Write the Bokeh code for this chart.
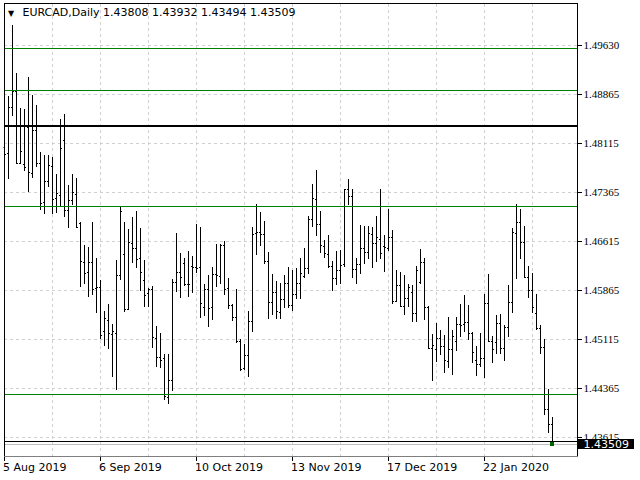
from bokeh.plotting import figure
from bokeh.models import (FixedTicker, Label, LabelSet, ColumnDataSource, Range1d,
                          BoxAnnotation)
from bokeh.embed import file_html
from bokeh.resources import INLINE

# ---------------- data ----------------
symbol_title = "EURCAD,Daily  1.43808 1.43932 1.43494 1.43509"

opens = [1.48060, 1.47958, 1.48662, 1.48912, 1.47805, 1.47790, 1.48356, 1.47652, 1.48315, 1.47805,
         1.47208, 1.47530, 1.47764, 1.47270, 1.47321, 1.48162, 1.47086, 1.47239, 1.47336, 1.46887,
         1.46290, 1.46137, 1.46290, 1.45893, 1.45918, 1.45230, 1.45408, 1.45194, 1.45213, 1.46090,
         1.46417, 1.45575, 1.46580, 1.46504, 1.46361, 1.46019, 1.45815, 1.45876, 1.45127, 1.44846,
         1.44821, 1.44224, 1.44489, 1.45983, 1.46147, 1.46274, 1.45953, 1.46233, 1.46218, 1.46218,
         1.45601, 1.45876, 1.45601, 1.46106, 1.46085, 1.46555, 1.45897, 1.45631, 1.45453, 1.45091,
         1.44668, 1.44866, 1.45387, 1.46743, 1.46759, 1.46718, 1.46310, 1.45677, 1.45830, 1.45535,
         1.45728, 1.45968, 1.45631, 1.45805, 1.45968, 1.46080, 1.46198, 1.46947, 1.47263, 1.46871,
         1.46544, 1.46417, 1.46228, 1.46050, 1.46172, 1.46259, 1.47406, 1.47304, 1.46187, 1.46259,
         1.46504, 1.46442, 1.46723, 1.46580, 1.46646, 1.46539, 1.46504, 1.46672, 1.45703, 1.45937,
         1.45626, 1.45744, 1.45830, 1.45509, 1.45988, 1.46289, 1.45600, 1.44974, 1.44958, 1.45127,
         1.45009, 1.44785, 1.44958, 1.45091, 1.45341, 1.45341, 1.45382, 1.45203, 1.44795, 1.44734,
         1.44821, 1.45662, 1.45091, 1.45065, 1.45356, 1.44984, 1.45305, 1.45688, 1.46743, 1.46912,
         1.46595, 1.46060, 1.45866, 1.45519, 1.45290, 1.44989, 1.44040, 1.43808]
highs = [1.48136, 1.48835, 1.49921, 1.49197, 1.48662, 1.48647, 1.49126, 1.48851, 1.48698, 1.47978,
         1.47933, 1.47933, 1.47907, 1.47642, 1.48488, 1.48560, 1.47474, 1.47642, 1.47581, 1.46913,
         1.46556, 1.46525, 1.46913, 1.46357, 1.46020, 1.45546, 1.45663, 1.45347, 1.46325, 1.47141,
         1.46912, 1.46799, 1.46983, 1.47075, 1.46815, 1.46325, 1.45900, 1.45927, 1.45315, 1.45213,
         1.44887, 1.44887, 1.46034, 1.46738, 1.46432, 1.46366, 1.46463, 1.46386, 1.46886, 1.46830,
         1.45958, 1.46096, 1.46223, 1.46580, 1.46580, 1.46616, 1.46055, 1.45662, 1.45886, 1.45127,
         1.45040, 1.45545, 1.46830, 1.47187, 1.47059, 1.46927, 1.46447, 1.46121, 1.46004, 1.45978,
         1.46106, 1.46223, 1.46172, 1.46208, 1.46361, 1.46519, 1.47008, 1.47498, 1.47702, 1.47080,
         1.46631, 1.46718, 1.46310, 1.46463, 1.46478, 1.47422, 1.47575, 1.47422, 1.46366, 1.46861,
         1.46845, 1.46845, 1.46835, 1.46998, 1.47422, 1.46708, 1.47105, 1.46784, 1.46172, 1.46141,
         1.46106, 1.45958, 1.45943, 1.46233, 1.46504, 1.46366, 1.45620, 1.45203, 1.45371, 1.45254,
         1.45188, 1.45458, 1.45264, 1.45458, 1.45652, 1.45800, 1.45637, 1.45223, 1.45009, 1.45218,
         1.45815, 1.46121, 1.45172, 1.45494, 1.45499, 1.45331, 1.45943, 1.46825, 1.47182, 1.47116,
         1.46845, 1.46243, 1.46126, 1.45815, 1.45331, 1.45127, 1.44351, 1.43932]
lows = [1.46591, 1.47570, 1.48529, 1.47805, 1.47805, 1.47693, 1.47372, 1.47586, 1.47754, 1.47091,
        1.47035, 1.47448, 1.47035, 1.47050, 1.47142, 1.46989, 1.46821, 1.47168, 1.46836, 1.45918,
        1.45969, 1.45765, 1.45791, 1.45520, 1.45122, 1.45010, 1.44969, 1.44541, 1.44336, 1.46019,
        1.45535, 1.45560, 1.46284, 1.46208, 1.45856, 1.45611, 1.45611, 1.44989, 1.44693, 1.44678,
        1.44193, 1.44132, 1.44326, 1.45841, 1.45749, 1.45937, 1.45764, 1.45825, 1.46136, 1.45443,
        1.45473, 1.45305, 1.45407, 1.45917, 1.45968, 1.45795, 1.45580, 1.45397, 1.45060, 1.44632,
        1.44642, 1.44540, 1.45229, 1.46402, 1.46539, 1.46274, 1.45427, 1.45494, 1.45433, 1.45427,
        1.45596, 1.45601, 1.45550, 1.45728, 1.45728, 1.46050, 1.46111, 1.46835, 1.46692, 1.46437,
        1.46366, 1.46213, 1.45856, 1.45953, 1.45958, 1.46223, 1.47167, 1.46055, 1.45958, 1.46121,
        1.46264, 1.46351, 1.46213, 1.46300, 1.46351, 1.46147, 1.46468, 1.45652, 1.45688, 1.45611,
        1.45489, 1.45611, 1.45387, 1.45382, 1.45958, 1.45417, 1.44965, 1.44479, 1.44770, 1.44872,
        1.44601, 1.44683, 1.44566, 1.44938, 1.45152, 1.45229, 1.45101, 1.44754, 1.44560, 1.44693,
        1.44525, 1.45076, 1.44754, 1.44897, 1.44897, 1.44785, 1.45152, 1.45519, 1.46045, 1.46340,
        1.46060, 1.45749, 1.45519, 1.45264, 1.44887, 1.43954, 1.43683, 1.43494]
closes = [1.47943, 1.48662, 1.48912, 1.47805, 1.47989, 1.47754, 1.47678, 1.48315, 1.47805, 1.47193,
          1.47530, 1.47774, 1.47254, 1.47346, 1.48040, 1.47086, 1.47239, 1.47361, 1.46836, 1.46306,
          1.46122, 1.46290, 1.45877, 1.45918, 1.45179, 1.45434, 1.45204, 1.45230, 1.46090, 1.47075,
          1.45575, 1.46595, 1.46504, 1.46340, 1.46136, 1.45790, 1.45876, 1.45142, 1.44836, 1.44795,
          1.44249, 1.44489, 1.45983, 1.46147, 1.46070, 1.45953, 1.45953, 1.46218, 1.46208, 1.45662,
          1.45876, 1.45591, 1.46106, 1.46096, 1.46555, 1.45886, 1.45631, 1.45453, 1.45091, 1.44652,
          1.44866, 1.45387, 1.46718, 1.46759, 1.46718, 1.46310, 1.45677, 1.45830, 1.45550, 1.45728,
          1.45968, 1.45631, 1.45805, 1.45968, 1.46131, 1.46198, 1.46947, 1.47269, 1.46871, 1.46555,
          1.46427, 1.46228, 1.46050, 1.46172, 1.46243, 1.47406, 1.47304, 1.46187, 1.46259, 1.46504,
          1.46442, 1.46733, 1.46580, 1.46672, 1.46427, 1.46519, 1.46672, 1.45703, 1.45937, 1.45626,
          1.45744, 1.45917, 1.45519, 1.46172, 1.46289, 1.45611, 1.44980, 1.45025, 1.45127, 1.45009,
          1.44795, 1.44963, 1.45162, 1.45341, 1.45331, 1.45382, 1.45213, 1.44923, 1.44734, 1.44821,
          1.45672, 1.45091, 1.44958, 1.45356, 1.44984, 1.45305, 1.45688, 1.46759, 1.46912, 1.46595,
          1.46060, 1.45866, 1.45601, 1.45290, 1.44989, 1.44040, 1.43811, 1.43509]

date_tick_bars = [0, 24, 48, 72, 96, 120]
date_tick_labels = ["5 Aug 2019", "6 Sep 2019", "10 Oct 2019", "13 Nov 2019", "17 Dec 2019", "22 Jan 2020"]
price_ticks = [1.43615, 1.44365, 1.45115, 1.45865, 1.46615, 1.47365, 1.48115, 1.48865, 1.49615]
price_tick_labels = ["1.43615", "1.44365", "1.45115", "1.45865", "1.46615", "1.47365", "1.48115", "1.48865", "1.49630"]
green_levels = [1.4957, 1.4892, 1.4715, 1.4428]
black_thick_level = 1.4839
black_thin_level = 1.4355
bid_price = 1.43509
bid_label = "1.43509"

# ---------------- layout / style ----------------
FONT = "DejaVu Sans"
W, H = 640, 480
B_LEFT, B_TOP, B_BOTTOM = 3, 2, 24
chart_w = 574            # width of the bordered price area, px
px_per_bar = 4.0
frame_w = W - B_LEFT      # drawing frame reaches the right edge (price scale drawn inside it)
frame_h = H - B_TOP - B_BOTTOM
x_start = -0.125
x_end = x_start + frame_w / px_per_bar
x_chart = x_start + chart_w / px_per_bar     # right border of the price area
dx = 1.0 / px_per_bar                          # one pixel in bar units
y_start, y_end = 1.43324, 1.50273
k = (y_end - y_start) / frame_h               # price per pixel

n = len(closes)
idx = list(range(n))
src = ColumnDataSource(dict(
    x=idx,
    xl=[i - 0.375 for i in idx],
    xr=[i + 0.375 for i in idx],
    o=opens, h=highs, l=lows, c=closes,
))

p = figure(width=W, height=H, x_range=Range1d(x_start, x_end), y_range=Range1d(y_start, y_end),
           output_backend="svg", toolbar_location=None,
           min_border_left=B_LEFT, min_border_top=B_TOP, min_border_right=0,
           min_border_bottom=B_BOTTOM, background_fill_color="white", border_fill_color="white",
           outline_line_color=None)
p.styles = {"shape-rendering": "crispEdges"}
p.xgrid.visible = False
p.ygrid.visible = False

# dashed grid, limited to the price area
grid_color = "#d0d0d0"
vgrid = list(range(0, n, 12))
p.segment(x0=vgrid, x1=vgrid, y0=[y_start] * len(vgrid), y1=[y_end] * len(vgrid),
          line_color=grid_color, line_dash="3 3", line_width=1)
p.segment(x0=[x_start] * len(price_ticks), x1=[x_chart] * len(price_ticks),
          y0=price_ticks, y1=price_ticks, line_color=grid_color, line_dash="3 3", line_width=1)

# x axis (below): labels left-aligned to their tick in the reference -> centre them to the right
label_widths_px = [63.5, 62.7, 68.0, 70.4, 70.3, 65.9]
label_centers = [b + (w / 2 - 1) / px_per_bar for b, w in zip(date_tick_bars, label_widths_px)]
xa = p.xaxis[0]
xa.ticker = FixedTicker(ticks=label_centers, minor_ticks=date_tick_bars)
xa.major_label_overrides = {c: s for c, s in zip(label_centers, date_tick_labels)}
xa.major_tick_line_color = None
xa.major_tick_in = 0
xa.major_tick_out = 0
xa.minor_tick_in = 0
xa.minor_tick_out = 4
xa.minor_tick_line_color = "black"
xa.major_label_standoff = 0
xa.axis_line_color = None
xa.major_label_text_font = FONT
xa.major_label_text_font_size = "11px"
xa.major_label_text_color = "black"
p.yaxis.visible = False

# OHLC bars
p.segment(x0="x", y0="l", x1="x", y1="h", source=src, line_color="black", line_width=1)
p.segment(x0="xl", y0="o", x1="x", y1="o", source=src, line_color="black", line_width=1)
p.segment(x0="x", y0="c", x1="xr", y1="c", source=src, line_color="black", line_width=1)

# horizontal level lines (price area only)
p.segment(x0=[x_start], x1=[x_chart], y0=[bid_price], y1=[bid_price], line_color="#c0c0c0", line_width=1)
p.segment(x0=[x_start] * len(green_levels), x1=[x_chart] * len(green_levels),
          y0=green_levels, y1=green_levels, line_color="#008000", line_width=1)
p.segment(x0=[x_start], x1=[x_chart], y0=[black_thick_level], y1=[black_thick_level],
          line_color="black", line_width=2)
p.segment(x0=[x_start], x1=[x_chart], y0=[black_thin_level], y1=[black_thin_level],
          line_color="black", line_width=1)

# last close marker
p.scatter(x=[idx[-1]], y=[closes[-1]], marker="square", size=3, color="#006400")

# border of the price area
p.add_layout(BoxAnnotation(left=x_start + 0.5 * dx, right=x_chart, bottom=y_start + 0.5 * k,
                           top=y_end - 0.5 * k, fill_alpha=0, line_color="black", line_width=1,
                           line_alpha=1))

# price scale (right of the price area): tick marks + labels
p.segment(x0=[x_chart] * len(price_ticks), x1=[x_chart + 4 * dx] * len(price_ticks),
          y0=price_ticks, y1=price_ticks, line_color="black", line_width=1)
ysrc = ColumnDataSource(dict(y=price_ticks, t=price_tick_labels,
                             x=[x_chart + 6 * dx] * len(price_ticks)))
p.add_layout(LabelSet(x="x", y="y", text="t", source=ysrc, text_font=FONT, text_font_size="11px",
                      text_baseline="middle", text_align="left", text_color="black"))

# title text in the top-left corner
p.add_layout(Label(x=x_start + 7.5 * dx, y=y_end - 10.5 * k, text="\u25bc",
                   text_font=FONT, text_font_size="8px", text_align="center",
                   text_baseline="middle", text_color="black"))
p.add_layout(Label(x=x_start + 19 * dx, y=y_end - 10 * k, text=symbol_title,
                   text_font=FONT, text_font_size="11px", text_baseline="middle",
                   text_color="black"))

# bid price box on the price scale (box starts at the border, text inset by the padding)
p.add_layout(Label(x=x_chart, y=bid_price, text=bid_label, text_font=FONT,
                   text_font_size="11px", text_baseline="middle", text_align="left",
                   text_color="white", background_fill_color="black", background_fill_alpha=1.0,
                   padding=dict(left=6, right=5, top=1, bottom=1)))

open("out.html", "w").write(file_html(p, INLINE))
